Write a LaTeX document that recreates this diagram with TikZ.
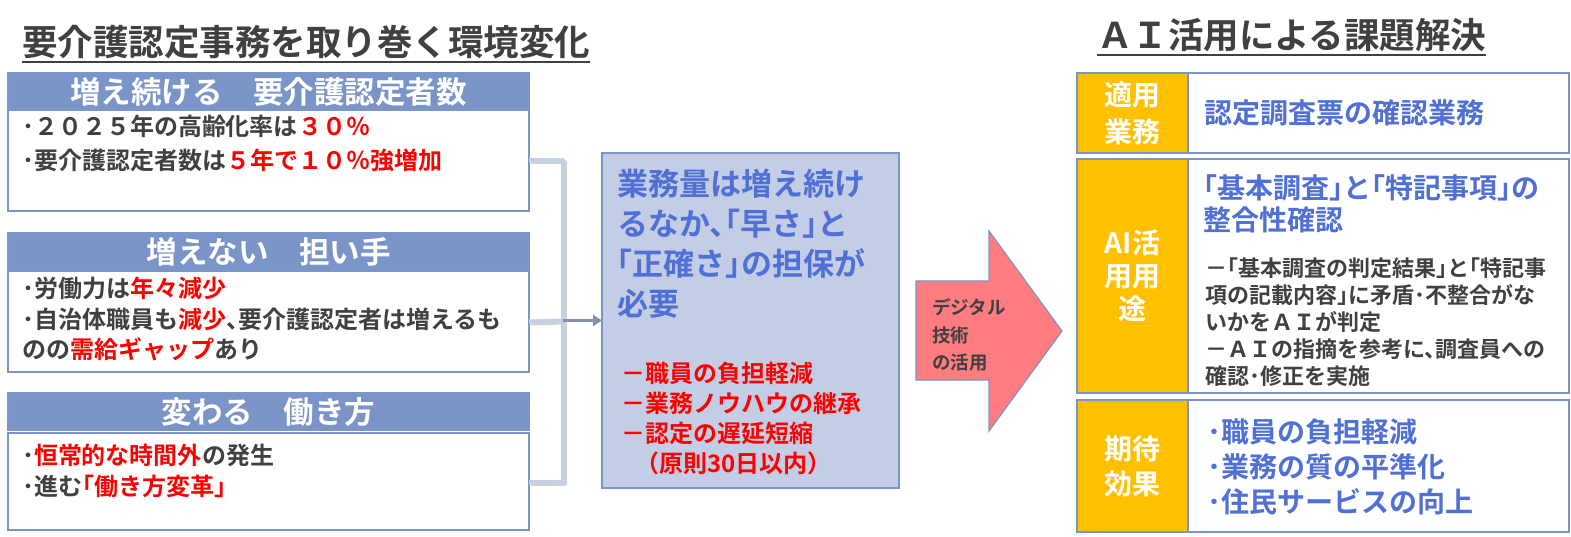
\documentclass[tikz,border=0pt]{standalone}
\usepackage{fontspec}
\setmainfont{Noto Sans CJK JP}[RawFeature=+halt, BoldFont={Noto Sans CJK JP Bold}]
\usetikzlibrary{arrows.meta,positioning,calc}

\definecolor{hdrblue}{RGB}{122,148,200}
\definecolor{lineblue}{RGB}{122,149,201}
\definecolor{midfill}{RGB}{195,206,230}
\definecolor{txtblue}{RGB}{80,112,214}
\definecolor{txtgray}{RGB}{64,64,64}
\definecolor{txtred}{RGB}{255,0,0}
\definecolor{lblorange}{RGB}{255,192,0}
\definecolor{arrowpink}{RGB}{255,124,128}
\definecolor{bracketblue}{RGB}{197,208,230}
\definecolor{feedgray}{RGB}{135,145,165}

\newcommand{\redtxt}[1]{\textcolor{txtred}{#1}}

\begin{document}
\begin{tikzpicture}[
  x=1pt, y=-1pt,
  every node/.style={inner sep=0pt, outer sep=0pt},
  hdr/.style={draw=lineblue, line width=1.5pt, fill=hdrblue, text=white,
              font=\fontsize{30.5}{30.5}\selectfont\bfseries,
              minimum width=521pt, minimum height=37pt, anchor=north west},
  bodybox/.style={draw=lineblue, line width=1.5pt, fill=white,
                  minimum width=521pt, anchor=north west},
  lines/.style={anchor=west, align=left, text=txtgray,
                font=\fontsize{24}{31}\selectfont\bfseries},
  uline/.style={line width=2.5pt, txtgray},
  bracket/.style={line width=4pt, bracketblue, line join=round},
  feed/.style={line width=3pt, feedgray, -{Triangle[length=9pt,width=11pt]}},
  rowbox/.style={draw=lineblue, line width=1.5pt, fill=white,
                 minimum width=492pt, anchor=north west},
  lbl/.style={draw=lineblue, line width=1.5pt, fill=lblorange, text=white,
              minimum width=111pt, anchor=north west, align=center},
]
\useasboundingbox (0,0) rectangle (1571,537);

% left: environment changes
\node[anchor=base west, text=txtgray, font=\fontsize{35.5}{35.5}\selectfont\bfseries]
  (ttl) at (22,56) {要介護認定事務を取り巻く環境変化};
\draw[uline] ([yshift=-6pt]ttl.base west) -- ([yshift=-6pt]ttl.base east);

\node[hdr] (h1) at (8,73) {増え続ける　要介護認定者数};
\node[bodybox, minimum height=101pt] (b1) at (8,110) {};
\node[lines, font=\fontsize{24}{34}\selectfont\bfseries] (t1) at (22,143)
  {･２０２５年の高齢化率は\redtxt{３０％}\\･要介護認定者数は\redtxt{５年で１０％強増加}};

\node[hdr] (h2) at (8,233) {増えない　担い手};
\node[bodybox, minimum height=101pt] (b2) at (8,271) {};
\node[lines, font=\fontsize{24}{30.5}\selectfont\bfseries] (t2) at (22,319)
  {･労働力は\redtxt{年々減少}\\･自治体職員も\redtxt{減少}、要介護認定者は増えるも\\のの\redtxt{需給ギャップ}あり};

\node[hdr] (h3) at (8,393) {変わる　働き方};
\node[bodybox, minimum height=97pt] (b3) at (8,433) {};
\node[lines] (t3) at (22,471)
  {･\redtxt{恒常的な時間外}の発生\\･進む\redtxt{「働き方変革」}};

% middle: need
\node[draw=lineblue, line width=1.5pt, fill=midfill, minimum width=297pt,
      minimum height=335pt, anchor=north west] (mid) at (602,153) {};
\node[anchor=north west, align=left, text=txtblue,
      font=\fontsize{31}{40}\selectfont\bfseries] (need) at (617,169)
  {業務量は増え続け\\るなか、「早さ」と\\「正確さ」の担保が\\必要};
\node[anchor=north west, align=left, text=txtred,
      font=\fontsize{24}{30}\selectfont\bfseries] (gain) at (621,362)
  {－職員の負担軽減\\－業務ノウハウの継承\\－認定の遅延短縮\\\hspace*{1.1em}（原則30日以内）};

% bracket into middle box
\coordinate (jn) at (563,320.5);
\begin{scope}[transform canvas={shift={(1.5pt,-2pt)}}]
  \draw[line width=4pt, black!18, line join=round] (b1.east) -| (jn) |- (b3.east);
  \draw[line width=4pt, black!18] (b2.east) -- (jn);
\end{scope}
\draw[bracket] (b1.east) -| (jn) |- (b3.east);
\draw[bracket] (b2.east) -- (jn);
\draw[feed] (jn) -- (mid.west);

% digital arrow
\draw[fill=arrowpink, draw=lineblue, line width=1.2pt]
  (916,281) -- (989,281) -- (989,231) -- (1062,331) -- (989,431)
  -- (989,380) -- (916,380) -- cycle;
\node[anchor=west, align=left, text=txtgray,
      font=\fontsize{18.5}{27.5}\selectfont\bfseries] (dx) at (932,335)
  {デジタル\\技術\\の活用};

% right: AI solution
\node[anchor=base west, text=txtgray, font=\fontsize{35.5}{35.5}\selectfont\bfseries]
  (ttr) at (1097,49) {ＡＩ活用による課題解決};
\draw[uline] ([yshift=-6pt]ttr.base west) -- ([yshift=-6pt]ttr.base east);

\node[rowbox, minimum height=80pt] (r1) at (1077,73) {};
\node[lbl, minimum height=80pt, font=\fontsize{28}{37}\selectfont\bfseries]
  (l1) at (1077,73) {適用\\業務};
\node[anchor=west, text=txtblue, font=\fontsize{28}{28}\selectfont\bfseries]
  (c1) at (1204,113) {認定調査票の確認業務};

\node[rowbox, minimum height=234pt] (r2) at (1077,159) {};
\node[lbl, minimum height=234pt, font=\fontsize{28}{33}\selectfont\bfseries]
  (l2) at (1077,159) {AI活\\用用\\途};
\node[anchor=north west, align=left, text=txtblue,
      font=\fontsize{28}{32}\selectfont\bfseries] (c2) at (1203,175)
  {「基本調査」と「特記事項」の\\整合性確認};
\node[anchor=north west, align=left, text=txtgray,
      font=\fontsize{22}{27}\selectfont\bfseries] (c2b) at (1205,258)
  {－「基本調査の判定結果」と「特記事\\項の記載内容」に矛盾･不整合がな\\いかをＡＩが判定\\－ＡＩの指摘を参考に、調査員への\\確認･修正を実施};

\node[rowbox, minimum height=132pt] (r3) at (1077,400) {};
\node[lbl, minimum height=132pt, font=\fontsize{28}{35}\selectfont\bfseries]
  (l3) at (1077,400) {期待\\効果};
\node[anchor=north west, align=left, text=txtblue,
      font=\fontsize{28}{35}\selectfont\bfseries] (c3) at (1207,419)
  {･職員の負担軽減\\･業務の質の平準化\\･住民サービスの向上};
\end{tikzpicture}
\end{document}
